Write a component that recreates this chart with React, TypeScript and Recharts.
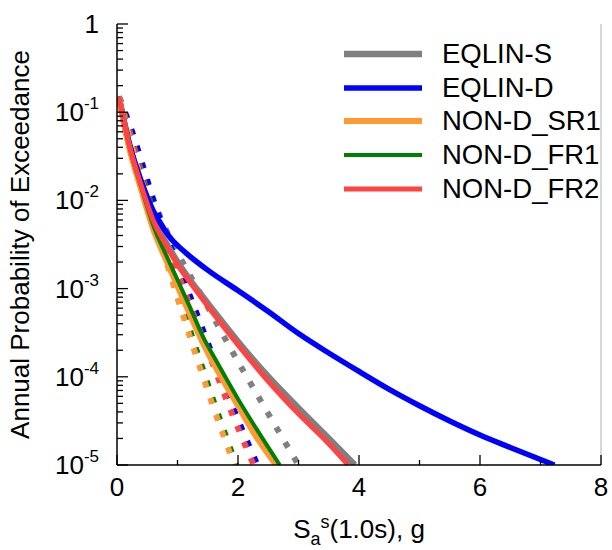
import React from "react";
import { LineChart, Line, XAxis, YAxis, Legend, ReferenceLine } from "recharts";

const FONT = "'Liberation Sans', Arial, sans-serif";

// solid curves
const eqlinSX = [0.03, 0.2, 0.4, 0.6, 0.8, 1.0, 1.2, 1.5, 2.0, 2.5, 3.0, 3.5, 3.93];
const eqlinSY = [0.15, 0.043, 0.0152, 0.0062, 0.0034, 0.002, 0.00126, 6.8e-4, 2.5e-4, 1.0e-4, 4.4e-5, 2.0e-5, 1e-5];

const eqlinDX = [0.03, 0.2, 0.4, 0.6, 0.7, 0.8, 0.9, 1.0, 1.2, 1.5, 2.0, 2.5, 3.0, 3.5, 4.0, 4.5, 5.0, 5.5, 6.0, 6.5, 7.23];
const eqlinDY = [0.15, 0.045, 0.0166, 0.0076, 0.0058, 0.0045, 0.00363, 0.00309, 0.00234, 0.00162, 9.5e-4, 5.5e-4, 3.09e-4, 1.86e-4, 1.15e-4, 7.2e-5, 4.7e-5, 3.16e-5, 2.19e-5, 1.58e-5, 1e-5];

const sr1X = [0.03, 0.2, 0.4, 0.6, 0.8, 1.0, 1.2, 1.45, 1.6, 2.0, 2.3, 2.63];
const sr1Y = [0.15, 0.04, 0.0132, 0.0047, 0.0022, 0.00107, 5.2e-4, 2.2e-4, 1.4e-4, 4.7e-5, 2.1e-5, 1e-5];

const fr1X = [0.03, 0.2, 0.4, 0.6, 0.8, 1.0, 1.2, 1.45, 1.6, 2.0, 2.3, 2.69];
const fr1Y = [0.15, 0.042, 0.0141, 0.0052, 0.0025, 0.00126, 6.3e-4, 2.6e-4, 1.7e-4, 5.6e-5, 2.6e-5, 1e-5];

const fr2X = [0.03, 0.2, 0.4, 0.6, 0.8, 1.0, 1.2, 1.5, 2.0, 2.5, 3.0, 3.5, 3.82];
const fr2Y = [0.15, 0.043, 0.0148, 0.0059, 0.0032, 0.00186, 0.0012, 6.3e-4, 2.3e-4, 8.9e-5, 3.8e-5, 1.74e-5, 1e-5];

// dotted curves
const eqlinSDotX = [0.03, 0.3, 0.6, 0.84, 1.12, 1.42, 1.86, 2.4, 3.0];
const eqlinSDotY = [0.15, 0.032, 0.01, 0.0042, 0.0018, 7.8e-4, 2.2e-4, 5e-5, 1e-5];

const eqlinDDotX = [0.03, 0.25, 0.45, 0.6, 0.8, 1.04, 1.3, 1.56, 1.9, 2.32];
const eqlinDDotY = [0.15, 0.06, 0.0219, 0.0102, 0.0042, 0.00162, 5.6e-4, 1.9e-4, 4.8e-5, 1e-5];

const fr2DotX = [0.03, 0.21, 0.4, 0.55, 0.8, 1.0, 1.27, 1.53, 1.86, 2.26];
const fr2DotY = [0.15, 0.06, 0.0209, 0.0095, 0.0034, 0.00151, 5.0e-4, 1.74e-4, 4.5e-5, 1e-5];

const fr1DotX = [0.03, 0.2, 0.4, 0.6, 0.8, 0.98, 1.26, 1.6, 1.97];
const fr1DotY = [0.15, 0.056, 0.019, 0.0076, 0.0025, 0.001, 2.6e-4, 5.2e-5, 1e-5];

const sr1DotX = [0.03, 0.2, 0.4, 0.6, 0.8, 0.97, 1.24, 1.57, 1.94];
const sr1DotY = [0.15, 0.054, 0.0174, 0.0068, 0.0022, 9.1e-4, 2.4e-4, 5e-5, 1e-5];

const xTicks = [0, 1, 2, 3, 4, 5, 6, 7, 8];
const yMajor = [1, 0.1, 0.01, 0.001, 1e-4, 1e-5];
const yTicks: number[] = [];
yMajor.forEach((d) => {
  yTicks.push(d);
  if (d < 1) for (let k = 2; k <= 9; k++) yTicks.push(d * k);
});

const toPoints = (xs: number[], ys: number[]) => xs.map((x, i) => ({ x, y: ys[i] }));

const GRAY = "#808080";
const BLUE = "#0000ff";
const ORANGE = "#ff9933";
const GREEN = "#008000";
const RED = "#ff4343";

const dottedLines = [
  { key: "sdot", data: toPoints(eqlinSDotX, eqlinSDotY), color: GRAY },
  { key: "ddot", data: toPoints(eqlinDDotX, eqlinDDotY), color: BLUE },
  { key: "fr2dot", data: toPoints(fr2DotX, fr2DotY), color: RED },
  { key: "fr1dot", data: toPoints(fr1DotX, fr1DotY), color: GREEN },
  { key: "sr1dot", data: toPoints(sr1DotX, sr1DotY), color: ORANGE },
];

const solidLines = [
  { key: "s", name: "EQLIN-S", data: toPoints(eqlinSX, eqlinSY), color: GRAY, width: 6.5 },
  { key: "d", name: "EQLIN-D", data: toPoints(eqlinDX, eqlinDY), color: BLUE, width: 5.5 },
  { key: "sr1", name: "NON-D_SR1", data: toPoints(sr1X, sr1Y), color: ORANGE, width: 6 },
  { key: "fr1", name: "NON-D_FR1", data: toPoints(fr1X, fr1Y), color: GREEN, width: 4 },
  { key: "fr2", name: "NON-D_FR2", data: toPoints(fr2X, fr2Y), color: RED, width: 5 },
];

const YTick = (props: any) => {
  const { x, y, payload } = props;
  const lg = Math.log10(payload.value);
  const exp = Math.round(lg);
  const major = Math.abs(lg - exp) < 1e-6;
  return (
    <g>
      <line x1={x} x2={x + (major ? 11 : 6)} y1={y} y2={y} stroke="#000" strokeWidth={1.3} />
      {major && (
        <text x={x - 18} y={y + 9} textAnchor="end" fontSize={26} fontFamily={FONT} fill="#000">
          {exp === 0 ? "1" : "10"}
          {exp !== 0 && (
            <tspan dy={-12} fontSize={17}>
              {String(exp)}
            </tspan>
          )}
        </text>
      )}
    </g>
  );
};

const XTick = (props: any) => {
  const { x, y, payload } = props;
  const major = payload.value % 2 === 0;
  return (
    <g>
      <line x1={x} x2={x} y1={y} y2={y - (major ? 10 : 5)} stroke="#000" strokeWidth={1.3} />
      {major && (
        <text x={x} y={y + 31} textAnchor="middle" fontSize={26} fontFamily={FONT} fill="#000">
          {payload.value}
        </text>
      )}
    </g>
  );
};

const XTitle = (props: any) => {
  const { viewBox } = props;
  const cx = viewBox.x + viewBox.width / 2;
  return (
    <text x={cx} y={viewBox.y + 73} textAnchor="middle" fontSize={26} fontFamily={FONT} fill="#000">
      S
      <tspan dy={7} fontSize={18}>a</tspan>
      <tspan dy={-17} fontSize={18}>s</tspan>
      <tspan dy={10}>(1.0s), g</tspan>
    </text>
  );
};

const YTitle = (props: any) => {
  const { viewBox } = props;
  const bx = viewBox.x + 12;
  const cy = viewBox.y + viewBox.height / 2;
  return (
    <text
      x={bx}
      y={cy}
      textAnchor="middle"
      fontSize={26}
      fontFamily={FONT}
      fill="#000"
      transform={`rotate(-90, ${bx}, ${cy})`}
    >
      Annual Probability of Exceedance
    </text>
  );
};

const LegendBox = () => (
  <div style={{ fontFamily: FONT, fontSize: 27.5, color: "#000" }}>
    {solidLines.map((s) => (
      <div key={s.key} style={{ display: "flex", alignItems: "center", height: 33.7 }}>
        <svg width={78} height={10}>
          <line x1={0} x2={78} y1={5} y2={5} stroke={s.color} strokeWidth={s.width} />
        </svg>
        <span style={{ marginLeft: 20, whiteSpace: "nowrap" }}>{s.name}</span>
      </div>
    ))}
  </div>
);

export default function App() {
  return (
    <div style={{ position: "absolute", left: 0, top: 0, background: "#fff" }}>
      <LineChart width={612} height={550} margin={{ top: 24, right: 11, bottom: 25, left: 17 }}>
        <XAxis
          type="number"
          dataKey="x"
          domain={[0, 8]}
          ticks={xTicks}
          interval={0}
          allowDataOverflow
          tickSize={0}
          tickMargin={0}
          height={60}
          tick={<XTick />}
          axisLine={{ stroke: "#000", strokeWidth: 1.5 }}
          label={<XTitle />}
        />
        <YAxis
          type="number"
          dataKey="y"
          scale="log"
          domain={[1e-5, 1]}
          ticks={yTicks}
          interval={0}
          allowDataOverflow
          tickSize={0}
          tickMargin={0}
          width={100}
          tick={<YTick />}
          axisLine={{ stroke: "#000", strokeWidth: 1.5 }}
          label={<YTitle />}
        />
        <ReferenceLine x={8} stroke="#b0b0b0" strokeWidth={1} />
        {dottedLines.map((s) => (
          <Line
            key={s.key}
            data={s.data}
            dataKey="y"
            type="monotone"
            stroke={s.color}
            strokeWidth={6}
            strokeDasharray="6 11.5"
            dot={false}
            activeDot={false}
            isAnimationActive={false}
            legendType="none"
          />
        ))}
        {solidLines.map((s) => (
          <Line
            key={s.key}
            name={s.name}
            data={s.data}
            dataKey="y"
            type="monotone"
            stroke={s.color}
            strokeWidth={s.width}
            dot={false}
            activeDot={false}
            isAnimationActive={false}
          />
        ))}
        <Legend
          layout="vertical"
          align="center"
          verticalAlign="middle"
          wrapperStyle={{ top: 37, left: 344, width: 266 }}
          content={<LegendBox />}
        />
      </LineChart>
    </div>
  );
}
